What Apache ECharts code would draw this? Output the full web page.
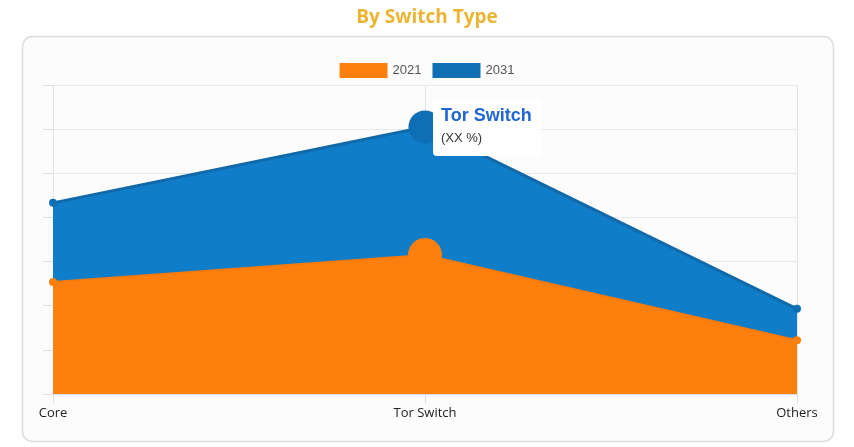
<!DOCTYPE html>
<html>
<head>
<meta charset="utf-8">
<script src="https://cdn.jsdelivr.net/npm/echarts@6/dist/echarts.min.js"></script>
<style>
html,body{margin:0;padding:0;background:#fff;}
#c{width:854px;height:447px;}
</style>
</head>
<body>
<div id="c"></div>
<script>
const categories = ['Core', 'Tor Switch', 'Others'];
const values2021 = [25.4, 31.5, 12.2];
const values2031 = [43.3, 60.5, 19.3];
const seriesNames = ['2021', '2031'];
const focusIndex = 1;

const chart = echarts.init(document.getElementById('c'), null, {renderer: 'canvas'});

function mkData(vals, big) {
  return vals.map((v, i) => i === focusIndex ? {value: v, symbolSize: big} : v);
}

chart.setOption({
  animation: false,
  backgroundColor: '#ffffff',
  title: {
    text: 'By Switch Type',
    left: 'center',
    top: 3,
    textStyle: {fontFamily: 'Open Sans', fontWeight: 700, fontSize: 19, color: '#ebb534'}
  },
  graphic: [{
    type: 'rect',
    z: -10,
    shape: {x: 22.5, y: 36.5, width: 811, height: 405, r: 10},
    style: {fill: '#fcfcfc', stroke: '#dcdcdc', lineWidth: 1.5},
    silent: true
  }],
  legend: {
    data: seriesNames,
    top: 58,
    left: 'center',
    itemWidth: 48,
    itemHeight: 15,
    itemGap: 11,
    icon: 'rect',
    textStyle: {fontFamily: 'Liberation Sans', fontSize: 13, color: '#555'}
  },
  tooltip: {
    trigger: 'item',
    alwaysShowContent: true,
    transitionDuration: 0,
    showDelay: 0,
    backgroundColor: '#ffffff',
    borderWidth: 0,
    padding: [6, 9, 6, 8],
    extraCssText: 'box-shadow:none;border-radius:4px;',
    position: function () { return [433, 99]; },
    formatter: function (p) {
      return '<div style="font-family:Liberation Sans,Arial;font-weight:bold;font-size:18px;color:#2266d6;line-height:21px;">' + p.name + '</div>' +
             '<div style="font-family:Liberation Sans,Arial;font-size:13px;color:#333;line-height:24px;">(XX %)</div>';
    }
  },
  grid: {left: 53, right: 57, top: 85, bottom: 53},
  xAxis: {
    type: 'category',
    data: categories,
    boundaryGap: false,
    axisLine: {show: true, lineStyle: {color: '#dddddd'}},
    axisTick: {show: true, length: 9, lineStyle: {color: '#dddddd'}},
    splitLine: {show: true, lineStyle: {color: '#e4e4e4'}},
    axisLabel: {
      fontFamily: 'Open Sans', fontSize: 13, color: '#222', margin: 13
    }
  },
  yAxis: {
    type: 'value',
    min: 0,
    max: 70,
    interval: 10,
    axisLine: {show: false},
    axisTick: {show: true, length: 10, lineStyle: {color: '#dddddd'}},
    axisLabel: {show: false},
    splitLine: {show: true, lineStyle: {color: '#e8e8e8'}}
  },
  series: [
    {
      name: '2021',
      type: 'line',
      z: 4,
      data: mkData(values2021, 34),
      symbol: 'circle',
      symbolSize: 8,
      itemStyle: {color: '#fd7f0e'},
      lineStyle: {color: '#f77a0c', width: 2},
      areaStyle: {color: '#fd7f0e', opacity: 1},
      emphasis: {disabled: true}
    },
    {
      name: '2031',
      type: 'line',
      z: 2,
      data: mkData(values2031, 33),
      symbol: 'circle',
      symbolSize: 8,
      itemStyle: {color: '#0f6fb5'},
      lineStyle: {color: '#1269a9', width: 3},
      areaStyle: {color: '#0f7dc7', opacity: 1},
      emphasis: {disabled: true}
    }
  ]
});

chart.dispatchAction({type: 'showTip', seriesIndex: 1, dataIndex: focusIndex});
</script>
</body>
</html>
